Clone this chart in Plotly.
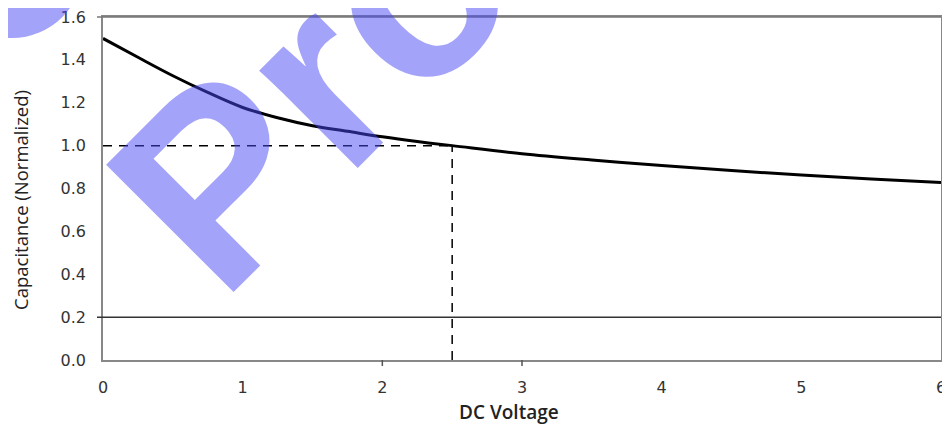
import plotly.graph_objects as go

# Data
voltage = [0, 0.25, 0.5, 0.75, 1.0, 1.25, 1.5, 1.75, 2.0, 2.25, 2.5, 3.0, 3.5, 4.0, 4.5, 5.0, 5.5, 6.0]
capacitance = [1.500, 1.412, 1.326, 1.248, 1.178, 1.130, 1.093, 1.067, 1.041, 1.019, 1.0, 0.962, 0.933, 0.907, 0.884, 0.863, 0.844, 0.828]
ref_voltage = 2.5
ref_cap = 1.0
baseline_cap = 0.2
x_ticks = [0, 1, 2, 3, 4, 5, 6]
y_ticks = [0.0, 0.2, 0.4, 0.6, 0.8, 1.0, 1.2, 1.4, 1.6]
y_tick_text = ["0.0", "0.2", "0.4", "0.6", "0.8", "1.0", "1.2", "1.4", "1.6"]
x_title = "DC Voltage"
y_title = "Capacitance (Normalized)"
watermark = "Pro"

# The page body has an 8px margin, so the figure starts at (8, 8) in the window.
OFF = 8
W, H = 950 - OFF, 429 - OFF
# target plot area in window pixels: x 103..941, y 17..360
L, T = 103 - OFF, 17 - OFF
R = W - (941 - OFF)
B = H - (360 - OFF)
pw, ph = W - L - R, H - T - B

def px(xw):
    return (xw - OFF - L) / pw

def py(yw):
    return (H - B - (yw - OFF)) / ph

fig = go.Figure()

fig.add_trace(go.Scatter(
    x=voltage, y=capacitance, mode="lines",
    line=dict(color="black", width=3, shape="spline", smoothing=1.0),
    showlegend=False, hoverinfo="skip"))

fig.add_trace(go.Scatter(
    x=[0, ref_voltage], y=[ref_cap, ref_cap], mode="lines",
    line=dict(color="black", width=1.5, dash="9px,7px"),
    showlegend=False, hoverinfo="skip"))
fig.add_trace(go.Scatter(
    x=[ref_voltage, ref_voltage], y=[0, ref_cap], mode="lines",
    line=dict(color="black", width=1.5, dash="9px,7px"),
    showlegend=False, hoverinfo="skip"))

shapes = []
shapes.append(dict(type="line", xref="paper", yref="y", x0=-6 / pw, x1=1,
                   y0=baseline_cap, y1=baseline_cap,
                   line=dict(color="#333333", width=1.5), layer="above"))
shapes.append(dict(type="line", xref="paper", yref="paper", x0=-6 / pw, x1=1,
                   y0=1, y1=1, line=dict(color="#777777", width=1.5), layer="above"))
for xv in (2, 3):
    shapes.append(dict(type="line", xref="x", yref="paper", x0=xv, x1=xv,
                       y0=0, y1=-6 / ph, line=dict(color="#555555", width=1.5)))
shapes.append(dict(type="circle", xref="paper", yref="paper",
                   x0=px(-59), x1=px(83), y0=py(38), y1=py(-104),
                   fillcolor="rgba(72,72,246,0.5)", line=dict(width=0), layer="above"))

annotations = [
    dict(text=y_title, xref="paper", yref="paper", x=px(20), y=py(200),
         xanchor="center", yanchor="middle",
         showarrow=False, textangle=-90,
         font=dict(family="Open Sans", size=18.5, color="#222222")),
    dict(text=x_title, xref="paper", yref="paper", x=px(509), y=py(412),
         xanchor="center", yanchor="middle",
         showarrow=False,
         font=dict(family="Open Sans", size=19, color="#222222", weight=600)),
    dict(text=watermark, xref="paper", yref="paper", x=px(311), y=py(86),
         xanchor="center", yanchor="middle",
         showarrow=False, textangle=-45,
         font=dict(family="Liberation Sans", size=262, color="rgba(72,72,246,0.5)", weight="bold")),
]

fig.update_layout(
    width=W, height=H,
    margin=dict(l=L, r=R, t=T, b=B, autoexpand=False),
    paper_bgcolor="white", plot_bgcolor="white",
    shapes=shapes, annotations=annotations,
    xaxis=dict(range=[0, 6], tickvals=x_ticks, showgrid=False, zeroline=False,
               showline=True, linecolor="#888888", linewidth=1.5, mirror=True,
               ticks="", ticklabelstandoff=12, automargin=False,
               ticklabeloverflow="allow",
               tickfont=dict(family="DejaVu Sans", size=16, color="#333333")),
    yaxis=dict(range=[0, 1.6], tickvals=y_ticks, ticktext=y_tick_text,
               showgrid=False, zeroline=False,
               showline=True, linecolor="#888888", linewidth=1.5, mirror=True,
               ticks="", ticklabelstandoff=12, automargin=False,
               ticklabeloverflow="allow",
               tickfont=dict(family="DejaVu Sans", size=16, color="#333333")),
)

fig.write_html("out.html")
